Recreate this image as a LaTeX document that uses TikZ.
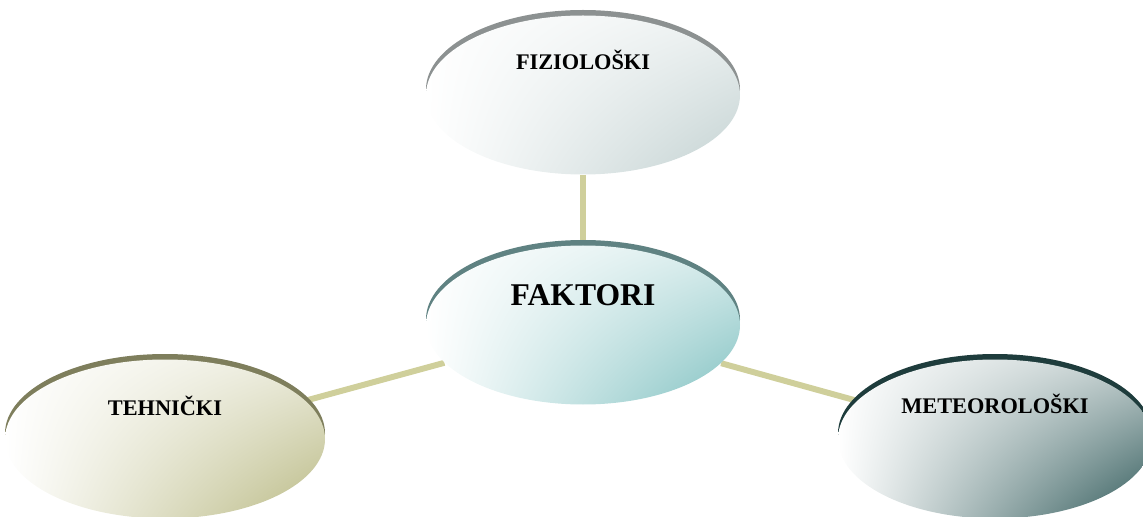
\documentclass[tikz,border=0pt]{standalone}
\usepackage{fontspec}
\setmainfont{Liberation Serif}
\usetikzlibrary{positioning,shapes.geometric,shadings,backgrounds}
\definecolor{linkcol}{HTML}{CFCF9B}
\definecolor{fizcol}{HTML}{C2D1D1}
\definecolor{fizrim}{HTML}{8C9191}
\definecolor{fakcol}{HTML}{80C1C1}
\definecolor{fakrim}{HTML}{5F8282}
\definecolor{tehcol}{HTML}{B9B983}
\definecolor{tehrim}{HTML}{7E7E5C}
\definecolor{metcol}{HTML}{2E5858}
\definecolor{metrim}{HTML}{1E3C3C}

\begin{document}
\begin{tikzpicture}[bubble/.style 2 args={ellipse,inner sep=0pt,minimum width=6.28cm,minimum height=3.18cm,
      upper left=white,lower left=white,upper right=#1!30,lower right=#1,
      preaction={fill=#2,transform canvas={yshift=0.11cm}}},
    word/.style={font=\bfseries\fontsize{12.7}{14}\selectfont},
    link/.style={draw=linkcol,line width=3.4pt}]
      \useasboundingbox (0,0) rectangle (22.86,-10.34);
      \node[bubble={fakcol}{fakrim},label={[font=\bfseries\fontsize{18}{20}\selectfont,yshift=0.6cm]center:FAKTORI}](fak) at (11.66,-6.5){};
      \node[bubble={fizcol}{fizrim},label={[word,yshift=0.7cm]center:FIZIOLOŠKI}](fiz) at (11.66,-1.9){};
      \node[bubble={tehcol}{tehrim},minimum width=6.4cm,label={[word,yshift=0.66cm]center:TEHNIČKI}](teh) at (3.3,-8.78){};
      \node[bubble={metcol}{metrim},label={[word,yshift=0.7cm]center:METEOROLOŠKI}](met) at (19.9,-8.78){};
      \begin{scope}[on background layer]
        \draw[link] (fiz) -- (fak);
        \draw[link] (fak) -- (teh);
        \draw[link] (fak) -- (met);
      \end{scope}
    \end{tikzpicture}
\end{document}
